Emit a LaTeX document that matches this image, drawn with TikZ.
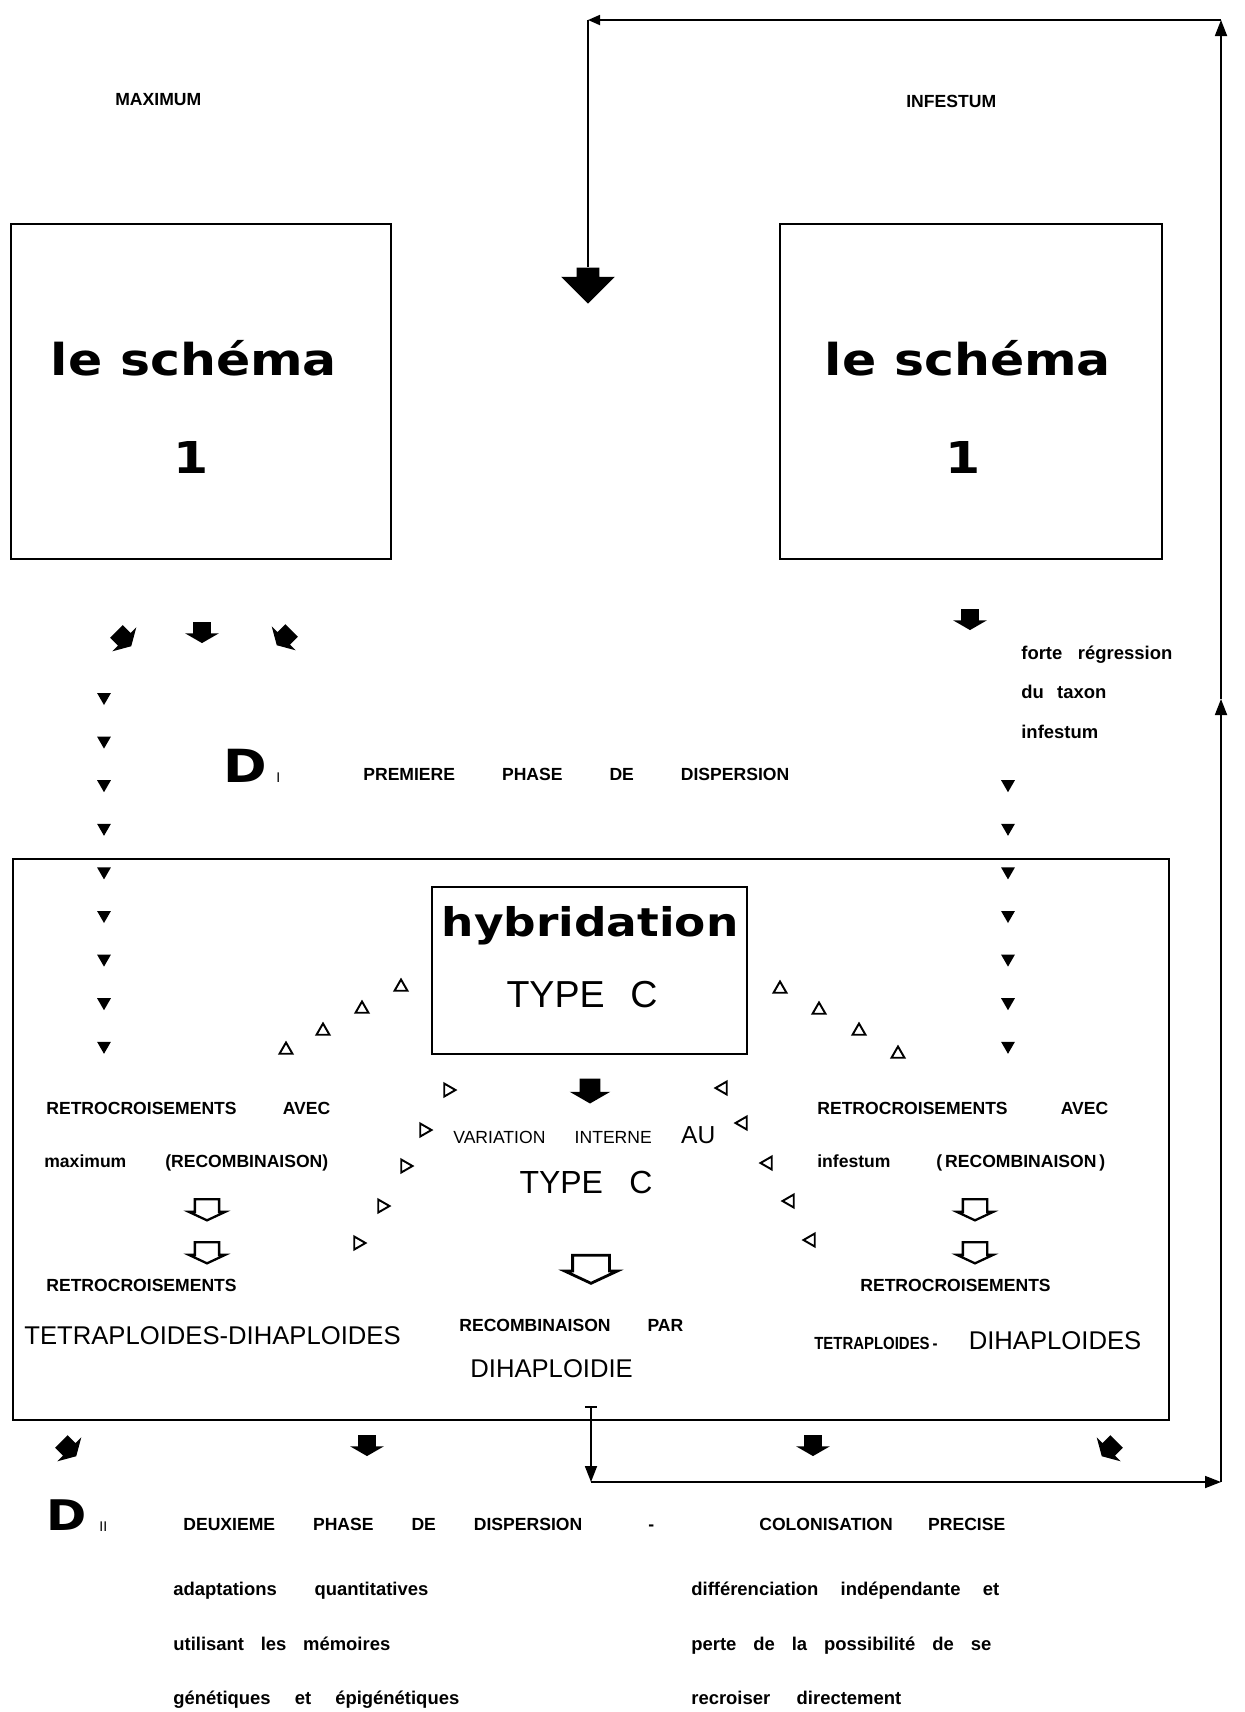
\documentclass[tikz,border=0pt]{standalone}
\usepackage{fontspec}
\setmainfont{Liberation Sans}
\newfontfamily\widefont[FakeStretch=1.15]{DejaVu Sans}
\newfontfamily\condfont[FakeStretch=0.85]{Liberation Sans}
\usetikzlibrary{arrows.meta,shapes.geometric,shapes.arrows}
\newcommand{\wordspread}[2]{\makebox[#1][s]{#2}}

\begin{document}
\begin{tikzpicture}[x=0.02cm,y=-0.02cm,
  framebox/.style={draw,line width=1.3pt,inner sep=0pt},
  bigword/.style={font=\widefont\bfseries\fontsize{25}{30}\selectfont,anchor=base,inner sep=0pt},
  dletter/.style={font=\widefont\bfseries\fontsize{26}{30}\selectfont,anchor=base west,inner sep=0pt},
  lbl/.style={font=\fontsize{10}{12}\selectfont\bfseries,anchor=base west,inner sep=0pt},
  note/.style={font=\fontsize{10.5}{12}\selectfont\bfseries,anchor=base west,inner sep=0pt},
  bigcaps/.style={font=\fontsize{14.6}{17}\selectfont,anchor=base west,inner sep=0pt},
  dropmark/.style={regular polygon,regular polygon sides=3,shape border rotate=180,
    fill=black,minimum size=0.32cm,inner sep=0pt},
  opentri/.style={regular polygon,regular polygon sides=3,draw,line width=1.1pt,
    minimum size=0.3cm,inner sep=0pt},
  fatarrow/.style={single arrow,fill=black,inner xsep=0pt,inner ysep=0.17cm,
    single arrow head extend=0.16cm,single arrow tip angle=120,minimum height=0.42cm},
  openarrow/.style={single arrow,draw,line width=1.3pt,fill=white,inner xsep=0pt,
    inner ysep=0.22cm,single arrow head extend=0.12cm,single arrow tip angle=130,
    minimum height=0.42cm},
  looparr/.style={line width=1pt,-{Triangle[width=2.4mm,length=3.2mm]}}
]
  \useasboundingbox (0,0) rectangle (1245,1712);

  % Taxa
  \node[lbl] (maxlabel) at (115,105) {MAXIMUM};
  \node[lbl] (inflabel) at (906,107) {INFESTUM};

  % Schema boxes
  \node[framebox,minimum width=7.6cm,minimum height=6.7cm] (lbox) at (201,391.5) {};
  \node[bigword] (ltitle) at (194,375) {le schéma};
  \node[bigword] (lnum) at (191,473) {1};
  \node[framebox,minimum width=7.64cm,minimum height=6.7cm] (rbox) at (971,391.5) {};
  \node[bigword] (rtitle) at (968,375) {le schéma};
  \node[bigword] (rnum) at (963,473) {1};

  % Arrows out of the schema boxes
  \node[fatarrow,rotate=-45] (fl1) at (122,637) {};
  \node[fatarrow,rotate=-90] (fl2) at (202,630) {};
  \node[fatarrow,rotate=-135] (fl3) at (286,636) {};
  \node[fatarrow,rotate=-90] (fr1) at (970,617) {};

  \node[note] (reg1) at (1021,659) {\wordspread{3.02cm}{forte régression}};
  \node[note] (reg2) at (1021,698) {\wordspread{1.7cm}{du taxon}};
  \node[note] (reg3) at (1021,738) {infestum};

  % First phase
  \node[dletter] (d1) at (223,782) {D};
  \node[lbl,font=\fontsize{8}{10}\selectfont] (d1num) at (276,782) {I};
  \node[lbl] (phase1) at (363,780) {\wordspread{8.52cm}{PREMIERE PHASE DE DISPERSION}};

  \foreach \k in {0,...,8}
    \node[dropmark] (dl\k) at (104,697+43.6*\k) {};
  \foreach \k in {2,...,8}
    \node[dropmark] (dr\k) at (1008,697+43.6*\k) {};

  % Hybridation frame
  \node[framebox,minimum width=23.12cm,minimum height=11.22cm] (bigbox) at (591,1139.5) {};
  \node[framebox,minimum width=6.3cm,minimum height=3.34cm] (hybbox) at (589.5,970.5) {};
  \node[bigword,font=\widefont\bfseries\fontsize{22.5}{26}\selectfont] (hybtitle) at (590,936) {hybridation};
  \node[anchor=base,inner sep=0pt,font=\fontsize{21.4}{24}\selectfont] (hybtype) at (582,1007)
    {\wordspread{3.02cm}{TYPE C}};

  \foreach \x/\y [count=\i] in {286/1050,323/1031,362/1009,401/987}
    \node[opentri] (ul\i) at (\x,\y) {};
  \foreach \x/\y [count=\i] in {780/989,819/1010,859/1031,898/1054}
    \node[opentri] (ur\i) at (\x,\y) {};
  \foreach \x/\y [count=\i] in {448/1090,424/1130,405/1166,382/1206,358/1243}
    \node[opentri,shape border rotate=-90] (ll\i) at (\x,\y) {};
  \foreach \x/\y [count=\i] in {723/1088,743/1123,768/1163,790/1201,811/1240}
    \node[opentri,shape border rotate=90] (lr\i) at (\x,\y) {};

  % Centre column
  \node[fatarrow,inner ysep=0.2cm,single arrow head extend=0.2cm,minimum height=0.5cm,
    rotate=-90] (hdown) at (590,1088) {};
  \node[anchor=base west,inner sep=0pt] (variation) at (453,1143)
    {\wordspread{5.24cm}{{\fontsize{10}{12}\selectfont VARIATION INTERNE} {\fontsize{14}{16}\selectfont AU}}};
  \node[anchor=base,inner sep=0pt,font=\fontsize{18.2}{21}\selectfont] (ctype) at (586,1193)
    {\wordspread{2.66cm}{TYPE C}};
  \node[openarrow,line width=1.6pt,inner ysep=0.34cm,single arrow head extend=0.16cm,
    minimum height=0.56cm,rotate=-90] (cdown) at (591,1265) {};
  \node[lbl] (recpar) at (459,1331) {\wordspread{4.48cm}{RECOMBINAISON PAR}};
  \node[bigcaps] (dihap) at (470,1377) {DIHAPLOIDIE};

  % Left column
  \node[lbl] (lretro) at (46,1114) {\wordspread{5.68cm}{RETROCROISEMENTS AVEC}};
  \node[lbl] (lrecomb) at (44,1167) {\wordspread{5.68cm}{maximum (RECOMBINAISON)}};
  \node[openarrow,rotate=-90] (la1) at (207,1207) {};
  \node[openarrow,rotate=-90] (la2) at (207,1250) {};
  \node[lbl] (lretro2) at (46,1291) {RETROCROISEMENTS};
  \node[bigcaps] (ltetra) at (24,1344) {TETRAPLOIDES-DIHAPLOIDES};

  % Right column
  \node[lbl] (rretro) at (817,1114) {\wordspread{5.82cm}{RETROCROISEMENTS AVEC}};
  \node[lbl] (rrecomb) at (817,1167) {\wordspread{5.76cm}{infestum (\,RECOMBINAISON\,)}};
  \node[openarrow,rotate=-90] (ra1) at (975,1207) {};
  \node[openarrow,rotate=-90] (ra2) at (975,1250) {};
  \node[lbl] (rretro2) at (860,1291) {RETROCROISEMENTS};
  \node[anchor=base west,inner sep=0pt] (rtetra) at (814,1349)
    {\wordspread{6.54cm}{{\condfont\fontsize{10}{12}\selectfont\bfseries TETRAPLOIDES\,-} {\fontsize{14.6}{17}\selectfont DIHAPLOIDES}}};

  % Return loop
  \node[fatarrow,inner ysep=0.22cm,single arrow head extend=0.31cm,single arrow tip angle=90,
    minimum height=0.72cm,rotate=-90] (toparrow) at (588,280) {};
  \coordinate (cbot) at (591,1482);
  \coordinate (cbr) at (1221,1482);
  \coordinate (cmid) at (1221,699);
  \coordinate (ctr) at (1221,20);
  \coordinate (ctl) at (588,20);
  \draw[looparr,{Bar[width=2.5mm]}-{Triangle[width=2.4mm,length=3.2mm]}] ([yshift=0.3cm]bigbox.south) -- (cbot);
  \draw[looparr] (cbot) -- (cbr);
  \draw[looparr] (cbr) -- (cmid);
  \draw[looparr] (cmid) -- (ctr);
  \draw[looparr,-{Triangle[width=2mm,length=2.4mm]}] (ctr) -- (ctl);
  \draw[line width=1pt] (ctl) -- (toparrow.tail);

  % Arrows out of the hybridation frame
  \node[fatarrow,rotate=-45] (fb1) at (67,1447) {};
  \node[fatarrow,rotate=-90] (fb2) at (367,1443) {};
  \node[fatarrow,rotate=-90] (fb3) at (813,1443) {};
  \node[fatarrow,rotate=-135] (fb4) at (1111,1447) {};

  % Second phase
  \node[dletter,font=\widefont\bfseries\fontsize{24}{28}\selectfont] (d2) at (46,1530) {D};
  \node[lbl,font=\fontsize{8}{10}\selectfont] (d2num) at (99,1531) {II};
  \node[lbl] (phase2) at (183,1530) {\wordspread{7.98cm}{DEUXIEME PHASE DE DISPERSION}};
  \node[lbl] (dash) at (648,1530) {-};
  \node[lbl] (colon) at (759,1530) {\wordspread{4.92cm}{COLONISATION PRECISE}};

  \node[note] (ad1) at (173,1595) {\wordspread{5.1cm}{adaptations quantitatives}};
  \node[note] (ad2) at (173,1650) {\wordspread{4.34cm}{utilisant les mémoires}};
  \node[note] (ad3) at (173,1704) {\wordspread{5.72cm}{génétiques et épigénétiques}};
  \node[note] (di1) at (691,1595) {\wordspread{6.16cm}{différenciation indépendante et}};
  \node[note] (di2) at (691,1650) {\wordspread{6.0cm}{perte de la possibilité de se}};
  \node[note] (di3) at (691,1704) {\wordspread{4.2cm}{recroiser directement}};
\end{tikzpicture}
\end{document}
